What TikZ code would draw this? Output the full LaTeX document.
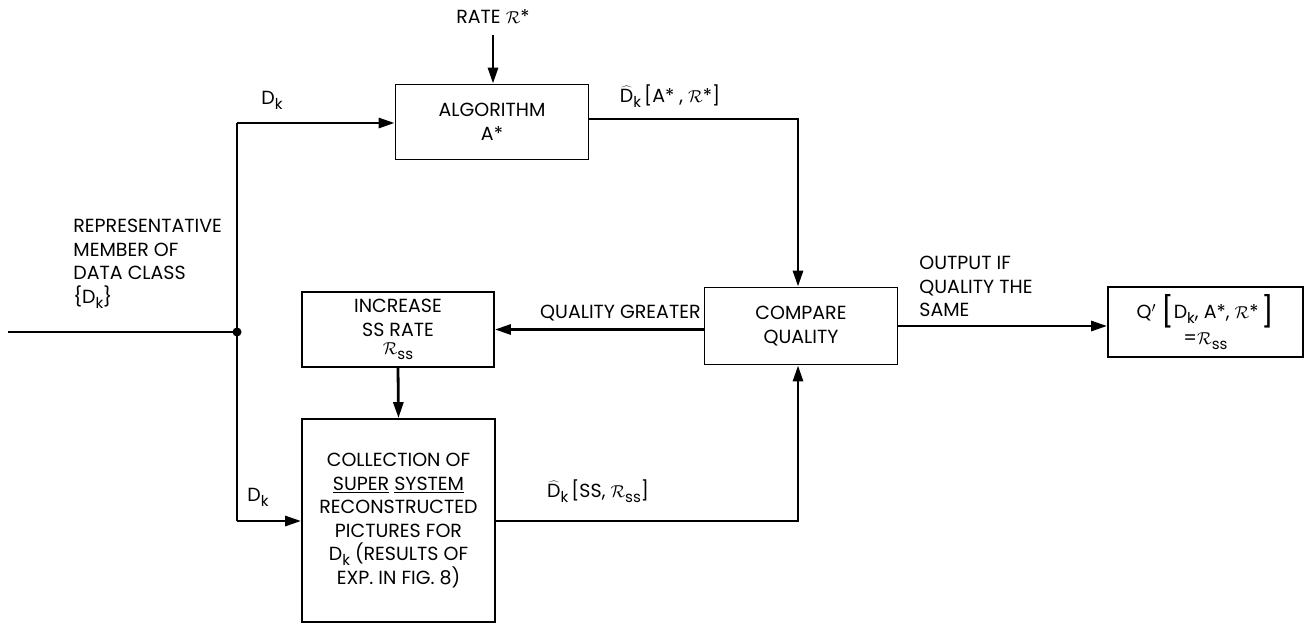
\documentclass[tikz,border=0pt]{standalone}
\usepackage{fontspec}
\setmainfont{Poppins}
\usetikzlibrary{arrows.meta}
\newcommand{\lsub}[1]{\raisebox{-0.5ex}{\fontsize{15}{15}\selectfont #1}}
\newcommand{\Dhat}{\ensuremath{\widehat{\mbox{D}}}}
\newcommand{\scR}{\ensuremath{\mathcal{R}}}
\newcommand{\bigbr}[1]{\raisebox{-0.35ex}{\fontsize{30}{30}\selectfont #1}}
\begin{document}
\begin{tikzpicture}[x=1pt,y=-1pt,
  line width=2.8pt,
  every node/.style={font=\fontsize{19}{23.5}\selectfont},
  blk/.style={draw, line width=1.8pt, align=center, inner sep=2pt},
  lbl/.style={align=left, inner sep=0pt},
  arr/.style={-{Triangle[length=16pt,width=10pt]}}]
\useasboundingbox (0,0) rectangle (1311,624);
% boxes
\node[blk, minimum width=193pt, minimum height=75pt] (alg) at (492,122) {ALGORITHM\\A*};
\node[blk, minimum width=193pt, minimum height=77pt] (cmp) at (801,326) {COMPARE\\QUALITY};
\node[blk, minimum width=192pt, minimum height=75pt] (inc) at (398,329.5) {INCREASE\\SS RATE\\[-5pt]\scR\lsub{ss}};
\node[blk, minimum width=193pt, minimum height=203pt] (col) at (398.5,520.5) {COLLECTION OF\\\underline{SUPER} \underline{SYSTEM}\\RECONSTRUCTED\\PICTURES FOR\\D\lsub{k} (RESULTS OF\\EXP. IN FIG. 8)};
\node[blk, minimum width=195pt, minimum height=70pt] (q) at (1205.5,322) {Q$'$\ \bigbr{[}D\lsub{k}, A*, \scR*\,\bigbr{]}\\[2pt]=\scR\lsub{ss}};
% coordinates
\coordinate (in) at (8,332);
\coordinate (j) at (237,332);
\coordinate (jt) at (237,123);
\coordinate (jb) at (237,521);
\coordinate (rt) at (493,35);
\coordinate (ac) at (798,119);
\coordinate (cc) at (798,521);
% labels
\node (rate) at (493,17) {RATE \scR*};
\node[lbl, anchor=north west] (rep) at (72,218) {REPRESENTATIVE\\MEMBER OF\\DATA CLASS\\\{D\lsub{k}\}};
\node (dk1) at (272,100) {D\lsub{k}};
\node (dk2) at (258,497) {D\lsub{k}};
\node (dha) at (670,96) {\Dhat\lsub{k}\,[A* , \scR*]};
\node (dhs) at (598,491) {\Dhat\lsub{k}\,[SS, \scR\lsub{ss}]};
\node[anchor=south east, inner sep=1pt] (qg) at (703,323) {QUALITY GREATER};
\node[lbl, anchor=north west] (out) at (918,255) {OUTPUT IF\\QUALITY THE\\SAME};
% connectors
\draw (in) -- (j);
\fill (j) circle (4.5pt);
\draw (jt) -- (jb);
\draw[arr] (jt) -- (alg.west |- jt);
\draw[arr] (jb) -- (col.west |- jb);
\draw[arr] (rt) -- (alg.north -| rt);
\draw[arr] (alg.east |- ac) -- (ac) -- (cmp.north -| ac);
\draw[arr] (col.east |- cc) -- (cc) -- (cmp.south -| cc);
\draw[arr] (cmp.west |- inc.east) -- (inc.east);
\draw[arr] (inc.south) -- (col.north);
\draw[arr] (cmp.east) -- (q.west |- cmp.east);
\end{tikzpicture}
\end{document}
